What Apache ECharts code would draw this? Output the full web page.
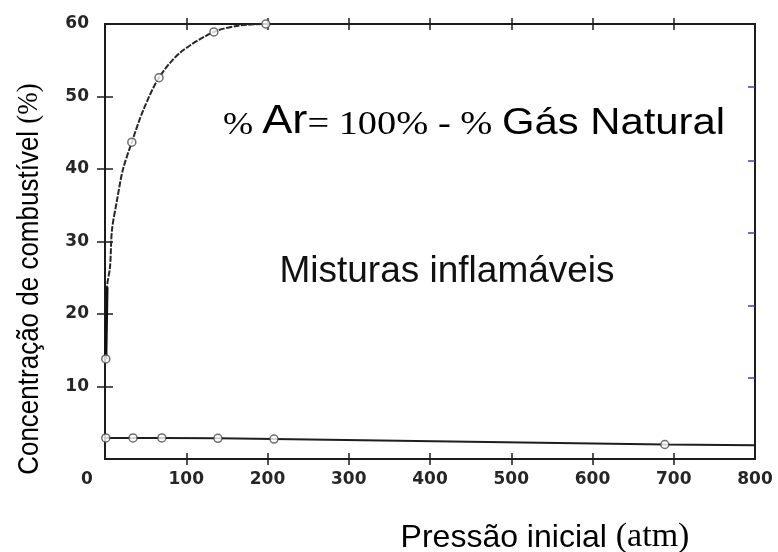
<!DOCTYPE html>
<html>
<head>
<meta charset="utf-8">
<script src="https://cdn.jsdelivr.net/npm/echarts@6/dist/echarts.min.js"></script>
<style>
  html, body { margin: 0; padding: 0; background: #ffffff; }
  #chart { width: 778px; height: 552px; }
</style>
</head>
<body>
<div id="chart"></div>
<script>
// Upper flammability limit: fuel concentration (%) vs initial pressure (atm)
const upperCurvePressure = [1, 2.5, 6.2, 8.6, 14.8, 22, 33, 47, 66.5, 92, 134, 166, 198];
const upperCurveConc     = [13.8, 23.7, 26.5, 31.6, 35.7, 39.9, 43.7, 48.1, 52.6, 56.0, 58.9, 59.8, 60];
// Measured points on the upper limit
const upperPointPressure = [1, 33, 66.5, 134, 198];
const upperPointConc     = [13.8, 43.7, 52.6, 58.9, 60];
// Steep low-pressure part of the upper limit, drawn heavier
const upperBasePressure  = [1, 2.5];
const upperBaseConc      = [13.8, 23.7];
// Lower flammability limit
const lowerCurvePressure = [1, 34.5, 70, 139, 208, 689, 800];
const lowerCurveConc     = [2.9, 2.9, 2.9, 2.85, 2.75, 2.0, 1.9];
const lowerPointPressure = [1, 34.5, 70, 139, 208, 689];
const lowerPointConc     = [2.9, 2.9, 2.9, 2.85, 2.75, 2.0];

// Axis ticks
const pressureTickValues = [100, 200, 300, 400, 500, 600, 700];
const concTickValues     = [10, 20, 30, 40, 50];
const rightTickValues    = [11.2, 21.2, 31.2, 41.1, 51.3];

const zip = (xs, ys) => xs.map((x, i) => [x, ys[i]]);

const INK = '#1c1c1c';
const labelFont = { fontFamily: 'DejaVu Sans', fontWeight: 'bold', fontSize: 17, color: '#262626' };
const tickLine = { color: INK, width: 1.5 };
// axes keep to their own side of the frame instead of snapping to zero
const noLine = { show: false, onZero: false };

const chart = echarts.init(document.getElementById('chart'), null, { renderer: 'canvas' });

chart.setOption({
  animation: false,
  backgroundColor: '#ffffff',
  grid: { left: 105, right: 23, top: 24, bottom: 93, show: true,
          borderColor: INK, borderWidth: 2, backgroundColor: 'transparent' },
  xAxis: [
    {
      // bottom axis: ticks cross the frame line (axis shifted 6px inward, ticks 12px outward)
      type: 'value', min: 0, max: 800, interval: 100, position: 'bottom', offset: -6,
      axisLine: noLine, splitLine: { show: false },
      axisTick: { show: true, inside: false, length: 12, customValues: pressureTickValues, lineStyle: tickLine },
      axisLabel: Object.assign({}, labelFont, {
        margin: 18,
        formatter: v => v === 0 ? '{z|0}' : String(v),
        rich: { z: Object.assign({}, labelFont, { padding: [0, 36, 0, 0] }) }
      })
    },
    {
      type: 'value', min: 0, max: 800, interval: 100, position: 'top', offset: -6,
      axisLine: noLine, splitLine: { show: false },
      axisTick: { show: true, inside: false, length: 12, customValues: pressureTickValues, lineStyle: tickLine },
      axisLabel: { show: false }
    }
  ],
  yAxis: [
    {
      type: 'value', min: 0, max: 60, interval: 10, position: 'left', offset: -8,
      axisLine: noLine, splitLine: { show: false },
      axisTick: { show: true, inside: false, length: 16, customValues: concTickValues, lineStyle: tickLine },
      axisLabel: Object.assign({}, labelFont, { margin: 24, showMinLabel: false })
    },
    {
      type: 'value', min: 0, max: 60, interval: 10, position: 'right',
      axisLine: noLine, splitLine: { show: false },
      axisTick: { show: true, inside: true, length: 7, customValues: rightTickValues,
                  lineStyle: { color: '#3a3ac4', width: 1.5 } },
      axisLabel: { show: false }
    }
  ],
  series: [
    {
      name: 'Limite superior',
      type: 'line',
      data: zip(upperCurvePressure, upperCurveConc),
      smooth: 0.3,
      showSymbol: false,
      symbol: 'none',
      lineStyle: { color: '#262626', width: 2, type: [6, 1.5] },
      z: 3
    },
    {
      name: 'Limite superior (base)',
      type: 'line',
      data: zip(upperBasePressure, upperBaseConc),
      symbol: 'none',
      lineStyle: { color: '#111', width: 3 },
      z: 3
    },
    {
      name: 'Limite inferior',
      type: 'line',
      data: zip(lowerCurvePressure, lowerCurveConc),
      symbol: 'none',
      lineStyle: { color: '#1e1e1e', width: 2 },
      z: 3
    },
    {
      name: 'Pontos superiores',
      type: 'scatter',
      data: zip(upperPointPressure, upperPointConc),
      symbol: 'circle',
      symbolSize: 8,
      itemStyle: { color: '#ffffff', borderColor: '#4a4a4a', borderWidth: 1.5 },
      z: 5
    },
    {
      name: 'Pontos inferiores',
      type: 'scatter',
      data: zip(lowerPointPressure, lowerPointConc),
      symbol: 'circle',
      symbolSize: 8,
      itemStyle: { color: '#ffffff', borderColor: '#4a4a4a', borderWidth: 1.5 },
      z: 5
    }
  ],
  graphic: [
    {
      type: 'text',
      x: 28, y: 279,
      rotation: Math.PI / 2,
      scaleY: 1.1,
      style: {
        text: '{a|Concentração de combustível }{b|(%)}',
        align: 'center', verticalAlign: 'middle',
        rich: {
          a: { fontFamily: 'Liberation Sans', fontSize: 26, color: '#111', verticalAlign: 'bottom', lineHeight: 30 },
          b: { fontFamily: 'Liberation Serif', fontSize: 27, color: '#111', verticalAlign: 'bottom', lineHeight: 30 }
        }
      }
    },
    {
      type: 'text',
      x: 545, y: 535,
      style: {
        text: '{a|Pressão inicial }{b|(atm)}',
        align: 'center', verticalAlign: 'middle',
        rich: {
          a: { fontFamily: 'Liberation Sans', fontSize: 32, color: '#111', verticalAlign: 'bottom', lineHeight: 38 },
          b: { fontFamily: 'Liberation Serif', fontSize: 34, color: '#111', verticalAlign: 'bottom', lineHeight: 38 }
        }
      }
    },
    {
      type: 'text',
      x: 474, y: 120,
      scaleX: 1.13,
      style: {
        text: '{p|% }{ar|Ar}{t|= 100% - % }{s|Gás Natural}',
        align: 'center', verticalAlign: 'middle',
        rich: {
          p:  { fontFamily: 'Liberation Serif', fontSize: 32, color: '#111', verticalAlign: 'bottom', lineHeight: 44 },
          ar: { fontFamily: 'Liberation Sans',  fontSize: 40, color: '#111', verticalAlign: 'bottom', lineHeight: 44 },
          t:  { fontFamily: 'Liberation Serif', fontSize: 34, color: '#111', verticalAlign: 'bottom', lineHeight: 44 },
          s:  { fontFamily: 'Liberation Sans',  fontSize: 37, color: '#111', verticalAlign: 'bottom', lineHeight: 44 }
        }
      }
    },
    {
      type: 'text',
      x: 447, y: 272,
      style: {
        text: 'Misturas inflamáveis',
        fontFamily: 'Liberation Sans', fontSize: 37, fill: '#111',
        align: 'center', verticalAlign: 'middle'
      }
    }
  ]
});
</script>
</body>
</html>
